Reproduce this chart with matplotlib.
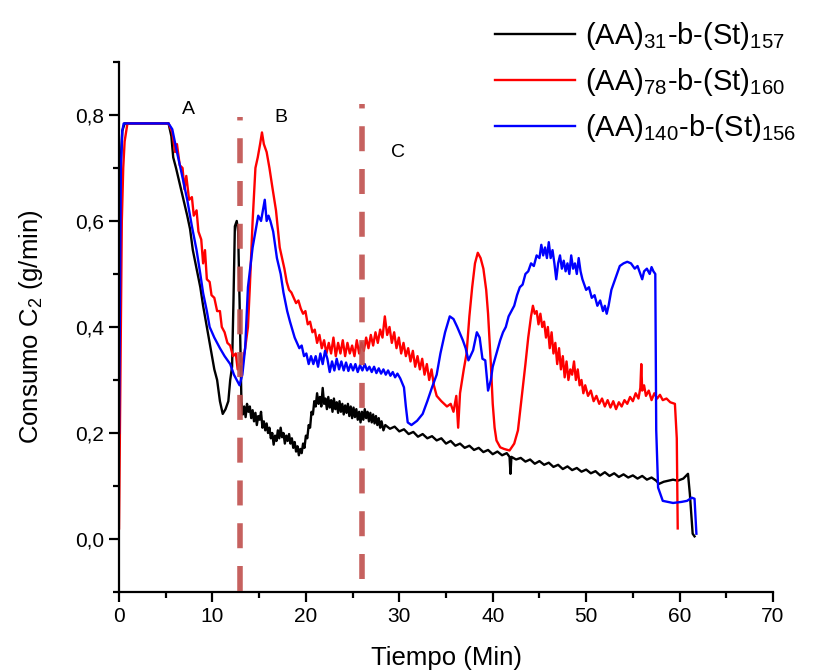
import matplotlib
matplotlib.use("Agg")
import matplotlib.pyplot as plt
from matplotlib.ticker import MultipleLocator, FuncFormatter

plt.rcParams['font.family'] = ['Liberation Sans', 'DejaVu Sans']
plt.rcParams['mathtext.fontset'] = 'custom'
plt.rcParams['mathtext.rm'] = 'Liberation Sans'
plt.rcParams['mathtext.it'] = 'Liberation Sans:italic'

# --- series: ethylene consumption (g/min) vs time (min) ---
t_aa31 = [0, 0.15, 0.35, 0.6, 5.3, 5.6, 5.8, 6.1, 6.5, 6.9, 7.3, 7.6, 7.9, 8.3, 8.7, 9.0, 9.4, 9.7, 9.9, 10.2,
          10.5, 10.8, 11.1, 11.4, 11.7, 11.9, 12.1, 12.25, 12.4, 12.6, 12.75, 12.9,
          13.1, 13.25, 13.4, 13.55, 13.7, 13.85, 14.0, 14.15, 14.3, 14.45, 14.6, 14.75, 14.9, 15.05, 15.2, 15.35,
          15.5, 15.65, 15.8, 15.95, 16.1, 16.25, 16.4, 16.55, 16.7, 16.85, 17.0, 17.15, 17.3, 17.45, 17.6, 17.75,
          17.9, 18.05, 18.2, 18.35, 18.5, 18.65, 18.8, 18.95, 19.1, 19.25, 19.4, 19.55, 19.7, 19.85, 20.0, 20.15,
          20.3, 20.45, 20.6, 20.75, 20.9, 21.05, 21.2, 21.35, 21.5, 21.65, 21.8, 21.95, 22.1, 22.25, 22.4, 22.55,
          22.7, 22.85, 23.0, 23.15, 23.3, 23.45, 23.6, 23.75, 23.9, 24.05, 24.2, 24.35, 24.5, 24.65, 24.8, 24.95,
          25.1, 25.25, 25.4, 25.55, 25.7, 25.85, 26.0, 26.15, 26.3, 26.45, 26.6, 26.75, 26.9, 27.05, 27.2, 27.35,
          27.5, 27.65, 27.8, 27.95, 28.1, 28.3, 28.5,
          29.0, 29.5, 30.0, 30.5, 31.0, 31.5, 32.0, 32.5, 33.0, 33.5, 34.0, 34.5, 35.0, 35.5, 36.0, 36.5, 37.0,
          37.5, 38.0, 38.5, 39.0, 39.5, 40.0, 40.5, 41.0, 41.5,
          41.8, 41.9, 42.0,
          42.5, 43.0, 43.5, 44.0, 44.5, 45.0, 45.5, 46.0, 46.5, 47.0, 47.5, 48.0, 48.5, 49.0, 49.5, 50.0, 50.5,
          51.0, 51.5, 52.0, 52.5, 53.0, 53.5, 54.0, 54.5, 55.0, 55.5, 56.0, 56.5, 57.0, 57.5,
          57.8, 58.3, 58.8, 59.3, 59.8, 60.4, 60.9, 61.1, 61.4, 61.6]
c_aa31 = [0.5, 0.7, 0.77, 0.784, 0.784, 0.76, 0.72, 0.70, 0.67, 0.64, 0.61, 0.585, 0.545, 0.51, 0.475, 0.44, 0.40,
          0.37, 0.35, 0.32, 0.30, 0.26, 0.236, 0.245, 0.26, 0.30, 0.325, 0.45, 0.59, 0.60, 0.58, 0.45,
          0.26, 0.235, 0.25, 0.23, 0.255, 0.24, 0.25, 0.228, 0.243, 0.222, 0.238, 0.215, 0.232, 0.225, 0.24, 0.21,
          0.222, 0.205, 0.218, 0.2, 0.21, 0.19, 0.2, 0.178, 0.195, 0.185, 0.205, 0.19, 0.21, 0.192, 0.2, 0.18,
          0.195, 0.185, 0.198, 0.18, 0.19, 0.172, 0.183, 0.165, 0.175, 0.158, 0.17, 0.162, 0.18, 0.172, 0.195,
          0.19, 0.215, 0.21, 0.24, 0.235, 0.26, 0.25, 0.275, 0.255, 0.268, 0.25, 0.285, 0.255, 0.265, 0.245,
          0.268, 0.248, 0.262, 0.24, 0.265, 0.245, 0.258, 0.238, 0.26, 0.24, 0.255, 0.235, 0.252, 0.238, 0.255,
          0.232, 0.25, 0.228, 0.248, 0.23, 0.245, 0.225, 0.24, 0.22, 0.24, 0.225, 0.245, 0.228, 0.24, 0.222,
          0.238, 0.22, 0.235, 0.218, 0.232, 0.215, 0.228, 0.21, 0.222, 0.205, 0.215,
          0.208, 0.212, 0.203, 0.207, 0.198, 0.202, 0.193, 0.198, 0.19, 0.194, 0.186, 0.19, 0.18, 0.185, 0.176,
          0.18, 0.172, 0.176, 0.168, 0.172, 0.164, 0.168, 0.16, 0.165, 0.158, 0.162,
          0.155, 0.123, 0.155,
          0.15, 0.153, 0.146, 0.15, 0.142, 0.147, 0.14, 0.144, 0.136, 0.14, 0.132, 0.137, 0.13, 0.134, 0.127,
          0.131, 0.124, 0.128, 0.12, 0.126, 0.119, 0.124, 0.117, 0.122, 0.116, 0.12, 0.114, 0.119, 0.112,
          0.116, 0.11,
          0.104, 0.108, 0.11, 0.112, 0.11, 0.114, 0.123, 0.085, 0.01, 0.005]

t_aa78 = [0, 0.15, 0.3, 0.45, 0.6, 0.9, 5.3, 5.7, 6.0, 6.2, 6.5, 6.8, 7.0, 7.2, 7.5, 7.8, 8.0, 8.3, 8.5, 8.8,
          9.0, 9.2, 9.4, 9.7, 9.9, 10.2, 10.5, 10.8, 11.0, 11.3, 11.6, 11.9, 12.2, 12.5, 12.7, 12.9, 13.2, 13.5,
          13.8, 14.0, 14.3, 14.6, 14.85, 15.1, 15.3, 15.5, 15.8, 16.1, 16.4, 16.8,
          17.2, 17.45, 17.7, 17.95, 18.2, 18.45, 18.7, 18.95, 19.2, 19.45, 19.7, 19.95, 20.2, 20.45, 20.7, 20.95,
          21.2, 21.45, 21.7, 21.95, 22.2, 22.45, 22.7, 22.95, 23.2, 23.45, 23.7, 23.95, 24.2, 24.45, 24.7, 24.95,
          25.2, 25.45, 25.7, 25.95, 26.2, 26.45, 26.7, 26.95, 27.2, 27.45, 27.7, 27.95, 28.2, 28.45, 28.7, 28.95,
          29.2, 29.45, 29.7, 29.95, 30.2, 30.45, 30.7, 30.95, 31.2, 31.45, 31.7, 31.95, 32.2, 32.45, 32.7, 32.95,
          33.2, 33.45, 33.7, 34.0, 34.5, 35.1, 35.5, 35.8, 36.1, 36.3, 36.5, 36.9, 37.2, 37.5, 37.8, 38.1, 38.4,
          38.7, 39.0, 39.3, 39.5, 39.8, 40.0, 40.2, 40.4, 40.8, 41.2, 41.8, 42.3, 42.7, 43.1, 43.5, 43.8,
          44.1, 44.3, 44.5, 44.7, 44.9, 45.1, 45.3, 45.5, 45.7, 45.9, 46.1, 46.3, 46.5, 46.7, 46.9, 47.1, 47.3,
          47.5, 47.7, 47.9, 48.1, 48.3, 48.5, 48.7, 48.9, 49.1, 49.3, 49.5, 49.7, 49.9, 50.2, 50.5, 50.8, 51.1,
          51.4, 51.7, 52.0, 52.3, 52.6, 52.9, 53.2, 53.5, 53.8, 54.1, 54.4, 54.7, 55.0, 55.3, 55.6, 55.8, 55.9,
          56.0, 56.2, 56.4, 56.7, 57.0, 57.3, 57.6, 57.9, 58.2, 58.6, 59.0, 59.5, 59.7, 59.8]
c_aa78 = [0.02, 0.3, 0.6, 0.7, 0.75, 0.784, 0.784, 0.767, 0.73, 0.745, 0.705, 0.70, 0.66, 0.685, 0.64, 0.645,
          0.61, 0.62, 0.58, 0.565, 0.52, 0.545, 0.49, 0.485, 0.46, 0.455, 0.43, 0.43, 0.40, 0.39, 0.37, 0.365,
          0.345, 0.35, 0.32, 0.33, 0.33, 0.36, 0.40, 0.475, 0.60, 0.70, 0.72, 0.745, 0.767, 0.745, 0.73, 0.70,
          0.665, 0.62,
          0.55, 0.53, 0.51, 0.485, 0.47, 0.465, 0.455, 0.445, 0.45, 0.435, 0.425, 0.43, 0.405, 0.41, 0.39, 0.395,
          0.37, 0.385, 0.36, 0.375, 0.35, 0.37, 0.35, 0.38, 0.345, 0.37, 0.35, 0.375, 0.345, 0.37, 0.35, 0.365,
          0.345, 0.375, 0.35, 0.37, 0.355, 0.38, 0.36, 0.385, 0.365, 0.39, 0.37, 0.395, 0.38, 0.42, 0.385, 0.4,
          0.37, 0.39, 0.36, 0.38, 0.35, 0.37, 0.345, 0.36, 0.335, 0.355, 0.325, 0.345, 0.32, 0.34, 0.31, 0.33,
          0.3, 0.32, 0.29, 0.27, 0.26, 0.25, 0.255, 0.24, 0.27, 0.21, 0.275, 0.32, 0.35, 0.42, 0.475, 0.52, 0.54,
          0.53, 0.51, 0.47, 0.425, 0.33, 0.255, 0.21, 0.186, 0.173, 0.17, 0.167, 0.18, 0.205, 0.267, 0.33, 0.38,
          0.42, 0.44, 0.425, 0.43, 0.405, 0.425, 0.40, 0.41, 0.38, 0.40, 0.36, 0.39, 0.35, 0.37, 0.33, 0.36,
          0.32, 0.345, 0.305, 0.335, 0.30, 0.32, 0.31, 0.335, 0.30, 0.32, 0.29, 0.30, 0.275, 0.29, 0.27, 0.28,
          0.26, 0.27, 0.255, 0.265, 0.25, 0.262, 0.248, 0.26, 0.245, 0.258, 0.25, 0.262, 0.255, 0.268, 0.26,
          0.275, 0.265, 0.285, 0.33, 0.28, 0.29, 0.27, 0.28, 0.262, 0.275, 0.265, 0.272, 0.262, 0.265, 0.258,
          0.255, 0.19, 0.02]

t_aa140 = [0, 0.1, 0.2, 0.35, 0.5, 5.3, 5.7, 6.2, 6.7, 7.3, 7.8, 8.3, 8.7, 9.0, 9.4, 9.7, 10.2, 10.8, 11.3, 11.9,
           12.3, 12.6, 12.9, 13.2, 13.5, 13.8, 14.1, 14.3, 14.6, 14.9, 15.2, 15.4, 15.6, 15.8, 16.0, 16.2, 16.5,
           16.9, 17.3, 17.6, 18.0,
           18.3, 18.55, 18.8, 19.05, 19.3, 19.55, 19.8, 20.05, 20.3, 20.55, 20.8, 21.05, 21.3, 21.55, 21.8, 22.05,
           22.3, 22.55, 22.8, 23.05, 23.3, 23.55, 23.8, 24.05, 24.3, 24.55, 24.8, 25.05, 25.3, 25.55, 25.8, 26.05,
           26.3, 26.55, 26.8, 27.05, 27.3, 27.55, 27.8, 28.05, 28.3, 28.55, 28.8, 29.05, 29.3, 29.55, 29.8, 30.1,
           30.5, 30.7, 30.9, 31.3, 31.9, 32.5, 33.0, 33.5, 34.0, 34.4, 34.9, 35.4, 35.8, 36.2, 36.8, 37.1, 37.4,
           37.9, 38.3, 38.6, 38.9, 39.2, 39.5, 39.8, 40.0, 40.4,
           40.8, 41.1, 41.4, 41.7, 42.0, 42.3, 42.6, 42.9, 43.2, 43.5, 43.8, 44.1, 44.4, 44.7, 45.0, 45.2, 45.4,
           45.6, 45.8, 46.0, 46.2, 46.4, 46.6, 46.8, 47.0, 47.2, 47.4, 47.6, 47.8, 48.0, 48.2, 48.4, 48.6, 48.8,
           49.0, 49.2, 49.4, 49.6, 49.8, 50.0, 50.3, 50.6, 50.9, 51.2, 51.5, 51.8, 52.0, 52.2, 52.4, 52.7, 53.0,
           53.3, 53.6, 54.0, 54.4, 54.8, 55.2, 55.5, 55.8, 56.0, 56.2, 56.5, 56.8, 57.0, 57.2, 57.4,
           57.5, 57.7, 58.2, 59.3, 60.2, 60.8, 61.3, 61.6, 61.8]
c_aa140 = [0.2, 0.45, 0.7, 0.77, 0.784, 0.784, 0.773, 0.73, 0.69, 0.64, 0.59, 0.545, 0.50, 0.464, 0.43, 0.40,
           0.38, 0.36, 0.345, 0.33, 0.31, 0.30, 0.29, 0.31, 0.36, 0.475, 0.52, 0.55, 0.58, 0.61, 0.60, 0.62,
           0.64, 0.60, 0.61, 0.60, 0.58, 0.53, 0.50, 0.465, 0.43,
           0.41, 0.395, 0.38, 0.37, 0.36, 0.365, 0.345, 0.35, 0.33, 0.345, 0.33, 0.345, 0.325, 0.35, 0.33, 0.355,
           0.34, 0.315, 0.335, 0.318, 0.34, 0.32, 0.335, 0.318, 0.333, 0.317, 0.33, 0.318, 0.33, 0.315, 0.328,
           0.318, 0.33, 0.318, 0.325, 0.315, 0.325, 0.313, 0.322, 0.312, 0.32, 0.31, 0.318, 0.308, 0.315, 0.305,
           0.312, 0.303,
           0.286, 0.25, 0.22, 0.215, 0.223, 0.236, 0.26, 0.286, 0.31, 0.35, 0.39, 0.42, 0.415, 0.40, 0.375,
           0.36, 0.337, 0.356, 0.39, 0.38, 0.34, 0.337, 0.28, 0.30, 0.325, 0.35,
           0.375, 0.39, 0.40, 0.42, 0.43, 0.44, 0.46, 0.475, 0.48, 0.50, 0.505, 0.52, 0.515, 0.535, 0.53, 0.555,
           0.535, 0.55, 0.53, 0.56, 0.53, 0.545, 0.52, 0.49, 0.52, 0.535, 0.51, 0.525, 0.505, 0.52, 0.50, 0.535,
           0.51, 0.52, 0.50, 0.53, 0.505, 0.49, 0.48, 0.47, 0.475, 0.455, 0.46, 0.44, 0.45, 0.43, 0.44, 0.425,
           0.44, 0.47, 0.485, 0.50, 0.515, 0.52, 0.523, 0.52, 0.51, 0.515, 0.50, 0.49, 0.505, 0.51, 0.50, 0.513,
           0.505, 0.50,
           0.205, 0.097, 0.072, 0.068, 0.07, 0.072, 0.078, 0.076, 0.01]

series_labels = [r'(AA)$_{31}$-b-(St)$_{157}$',
                 r'(AA)$_{78}$-b-(St)$_{160}$',
                 r'(AA)$_{140}$-b-(St)$_{156}$']
series_colors = ['black', 'red', 'blue']

# stage boundaries (min) and stage names
stage_bounds = [13.0, 26.0]
stage_names = ['A', 'B', 'C']
stage_pos = [(7.4, 0.81), (17.3, 0.795), (29.9, 0.73)]

fig = plt.figure(figsize=(8.22, 6.71), dpi=100)
ax = fig.add_axes([0.1448, 0.1177, 0.7956, 0.79])

handles = []
for t, c, lab, col in zip([t_aa31, t_aa78, t_aa140], [c_aa31, c_aa78, c_aa140], series_labels, series_colors):
    h, = ax.plot(t, c, color=col, lw=1.7, label=lab)
    handles.append(h)

# dashed boundaries between stages
ax.plot([stage_bounds[0]] * 2, [-0.098, 0.797], color='#c0504d', alpha=0.9, lw=4,
        dashes=(4.5, 3.2), zorder=5)
ax.plot([stage_bounds[1]] * 2, [-0.076, 0.82], color='#c0504d', alpha=0.9, lw=4,
        dashes=(4.5, 3.2), zorder=5)

for name, (x, y) in zip(stage_names, stage_pos):
    ax.text(x, y, name, fontsize=14, ha='center', va='center')

ax.set_xlim(0, 70)
ax.set_ylim(-0.1, 0.9)
ax.xaxis.set_major_locator(MultipleLocator(10))
ax.xaxis.set_minor_locator(MultipleLocator(5))
ax.yaxis.set_minor_locator(MultipleLocator(0.1))
ax.set_yticks([0.0, 0.2, 0.4, 0.6, 0.8])
ax.yaxis.set_major_formatter(FuncFormatter(lambda v, p: f'{abs(v):.1f}'.replace('.', ',')))

for s in ['top', 'right']:
    ax.spines[s].set_visible(False)
for s in ['left', 'bottom']:
    ax.spines[s].set_linewidth(1.6)
ax.tick_params(which='major', direction='out', length=7, width=1.6, labelsize=15)
ax.tick_params(which='minor', direction='out', length=4, width=1.6)

ax.set_xlabel('Tiempo (Min)', fontsize=18.5, labelpad=15)
ax.set_ylabel(r'Consumo C$_2$ (g/min)', fontsize=18.5, labelpad=22)

fig.legend(handles=handles, loc='upper left', bbox_to_anchor=(0.57, 1.009), frameon=False,
           fontsize=21, handlelength=2.75, labelspacing=0.48, handletextpad=0.35)

fig.savefig('out.png', dpi=100)
